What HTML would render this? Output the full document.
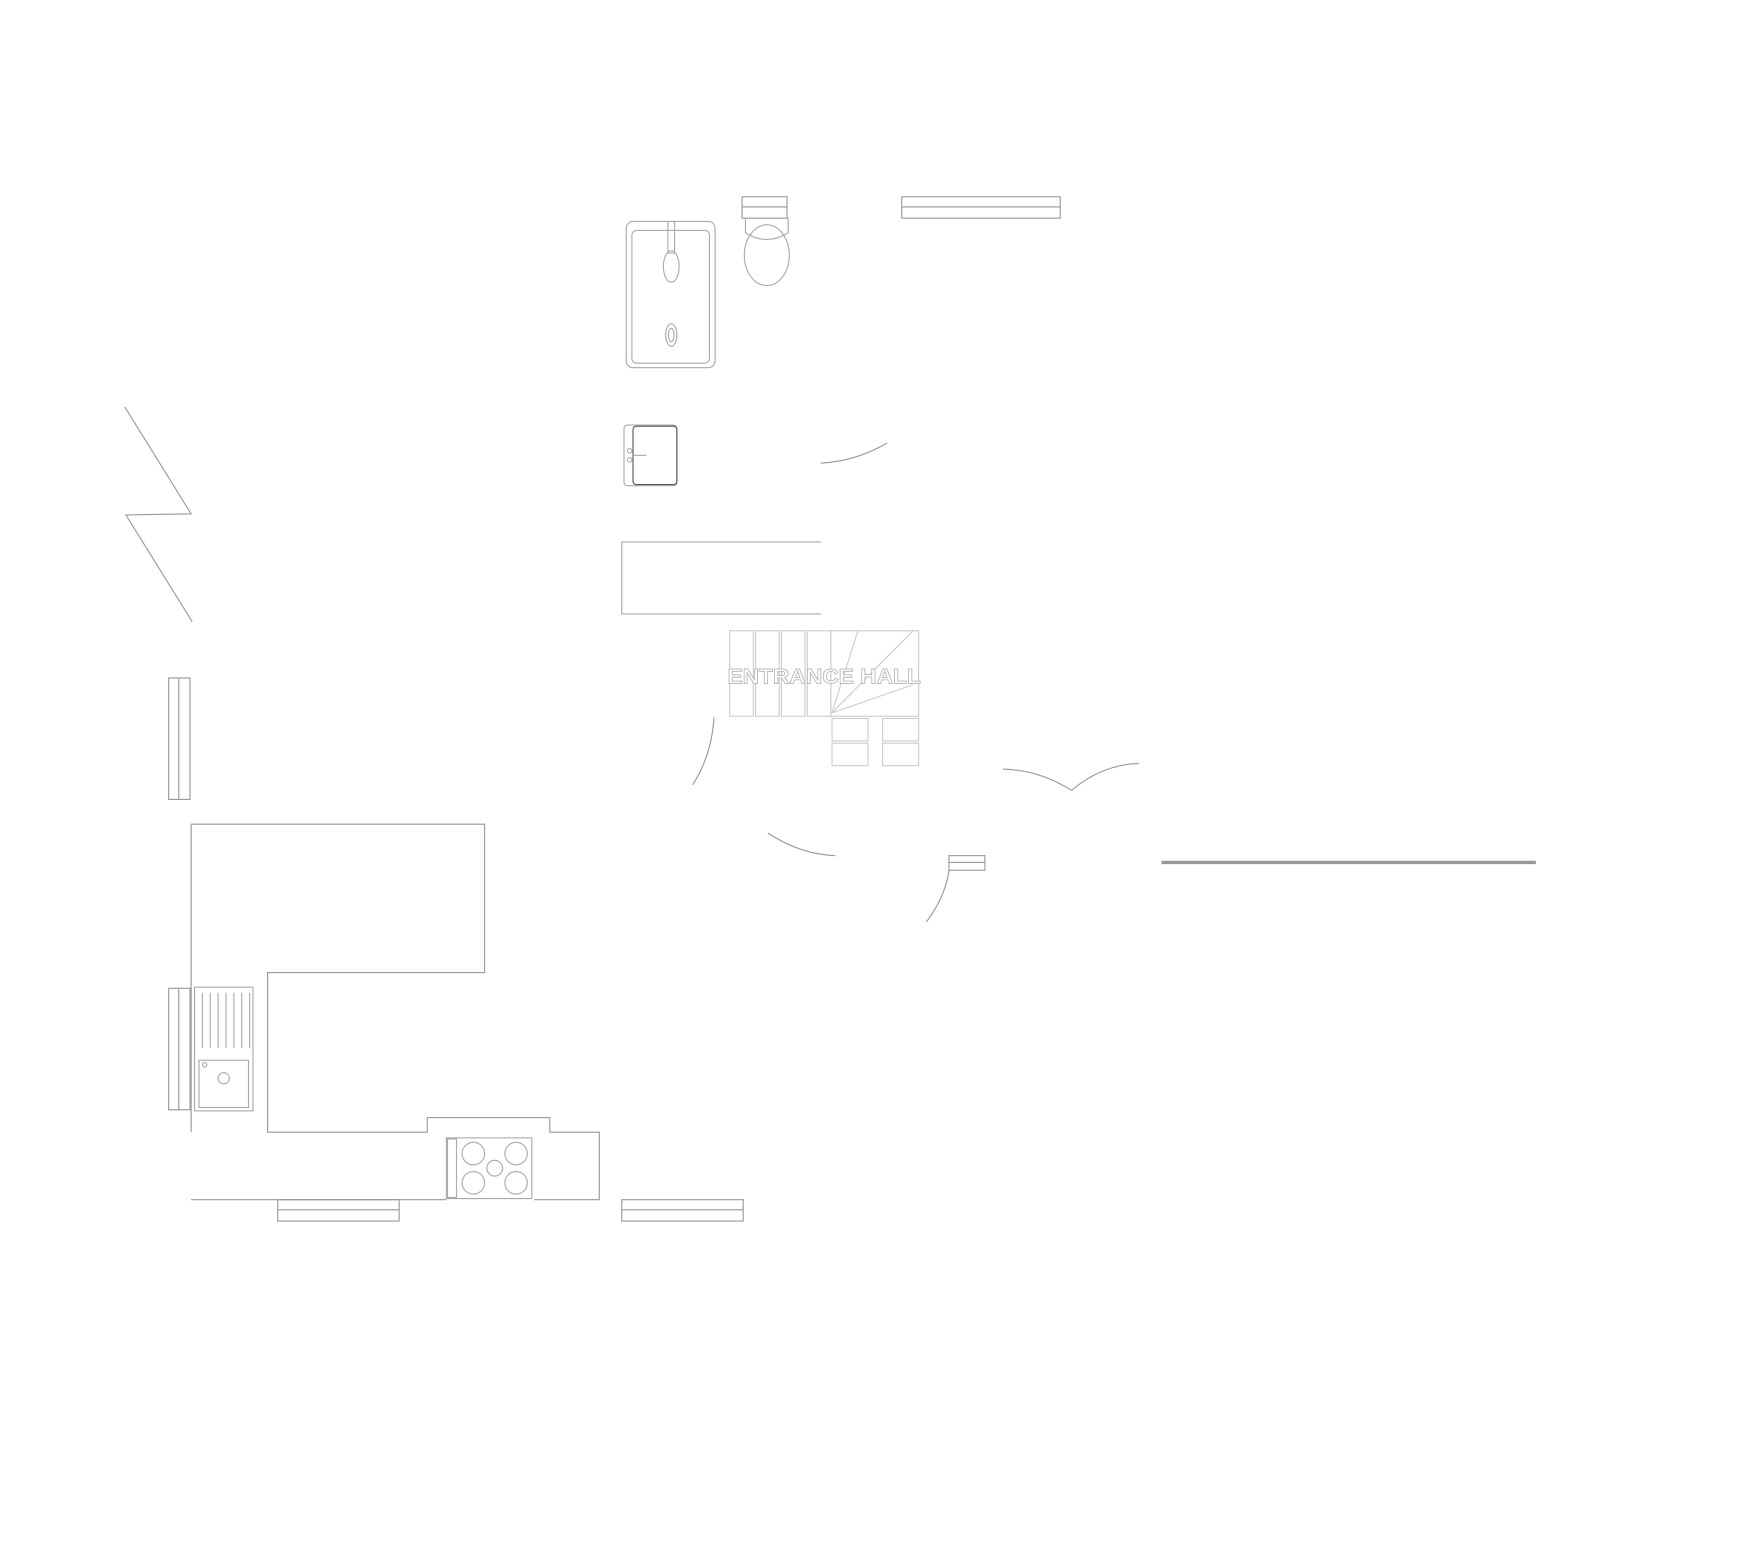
<!DOCTYPE html>
<html><head><style>html,body{margin:0;padding:0;background:#fff}svg{display:block}</style></head>
<body>
<svg width="1754" height="1546" viewBox="0 0 1560 1375" preserveAspectRatio="none" xmlns="http://www.w3.org/2000/svg" fill="none" stroke="#aaa" stroke-width="1">
<g transform="translate(-3,-3)">
<polyline points="114,365 173,460 115,461 174,556" stroke="#999"/>
<g stroke="#999">
<rect x="805" y="178" width="141" height="19"/><line x1="805" y1="187" x2="946" y2="187"/>
<rect x="663" y="178" width="40" height="19"/><line x1="663" y1="187" x2="703" y2="187"/>
<rect x="153" y="606" width="19" height="108"/><line x1="162" y1="606" x2="162" y2="714"/>
<rect x="153" y="882" width="19" height="108"/><line x1="162" y1="882" x2="162" y2="990"/>
<rect x="250" y="1070" width="108" height="19"/><line x1="250" y1="1079" x2="358" y2="1079"/>
<rect x="556" y="1070" width="108" height="19"/><line x1="556" y1="1079" x2="664" y2="1079"/>
<rect x="847" y="764" width="32" height="13"/><line x1="847" y1="770" x2="879" y2="770"/>
</g>
<line x1="1036" y1="770" x2="1369" y2="770" stroke="#999" stroke-width="3"/>
<rect x="560" y="200" width="79" height="130" rx="6"/>
<rect x="565" y="208" width="69" height="118" rx="4"/>
<rect x="597" y="200" width="6" height="28"/>
<ellipse cx="600" cy="240" rx="7" ry="14"/>
<ellipse cx="600" cy="301" rx="5" ry="10"/><ellipse cx="600" cy="301" rx="2.5" ry="6"/>
<path d="M666,197 L704,197 L704,210 Q685,222 666,210 Z"/>
<ellipse cx="685" cy="230" rx="20" ry="27"/>
<rect x="558" y="381" width="47" height="54" rx="3"/>
<rect x="566" y="382" width="39" height="52" rx="3" stroke="#555"/>
<line x1="566" y1="408" x2="578" y2="408"/><circle cx="563" cy="404" r="2"/><circle cx="563" cy="412" r="2"/>
<polyline points="733,485 556,485 556,549 733,549"/>
<g stroke="#ccc">
<rect x="652" y="564" width="21" height="76"/><rect x="675" y="564" width="21" height="76"/>
<rect x="698" y="564" width="21" height="76"/><rect x="721" y="564" width="21" height="76"/>
<rect x="742" y="564" width="78" height="76"/>
<line x1="743" y1="637" x2="766" y2="564"/><line x1="743" y1="637" x2="815" y2="564"/><line x1="743" y1="637" x2="815" y2="612"/>
<rect x="743" y="642" width="32" height="20"/><rect x="743" y="664" width="32" height="20"/>
<rect x="788" y="642" width="32" height="20"/><rect x="788" y="664" width="32" height="20"/>
</g>
<text x="650" y="611" textLength="172" lengthAdjust="spacingAndGlyphs" font-family="Liberation Sans, sans-serif" font-size="19" font-weight="bold" fill="#fff" stroke="#bbb" stroke-width="0.8">ENTRANCE HALL</text>
<g stroke="#999">
<path d="M733,415 Q765,413 792,397"/>
<path d="M638,641 Q636,675 619,701"/>
<path d="M686,744 Q715,763 746,764"/>
<path d="M895,687 Q928,688 956,706"/>
<path d="M956,706 Q983,683 1016,682"/>
<path d="M847,777 Q844,800 827,823"/>
</g>
<polyline points="173,1010 173,736 434,736 434,868 241,868 241,1010 383,1010 383,997 492,997 492,1010 536,1010 536,1070 478,1070" stroke="#999"/>
<line x1="173" y1="1070" x2="400" y2="1070" stroke="#999"/>
<rect x="176" y="881" width="52" height="110"/>
<g><line x1="183" y1="886" x2="183" y2="935"/><line x1="190" y1="886" x2="190" y2="935"/><line x1="197" y1="886" x2="197" y2="935"/><line x1="204" y1="886" x2="204" y2="935"/><line x1="211" y1="886" x2="211" y2="935"/><line x1="218" y1="886" x2="218" y2="935"/><line x1="225" y1="886" x2="225" y2="935"/></g>
<rect x="180" y="946" width="44" height="42"/><circle cx="202" cy="962" r="5"/><circle cx="185" cy="950" r="2"/>
<rect x="400" y="1015" width="76" height="54"/>
<rect x="401" y="1016" width="8" height="52"/>
<circle cx="424" cy="1029" r="10"/><circle cx="462" cy="1029" r="10"/><circle cx="424" cy="1055" r="10"/><circle cx="462" cy="1055" r="10"/><circle cx="443" cy="1042" r="7"/>
</g>
</svg>
</body></html>
